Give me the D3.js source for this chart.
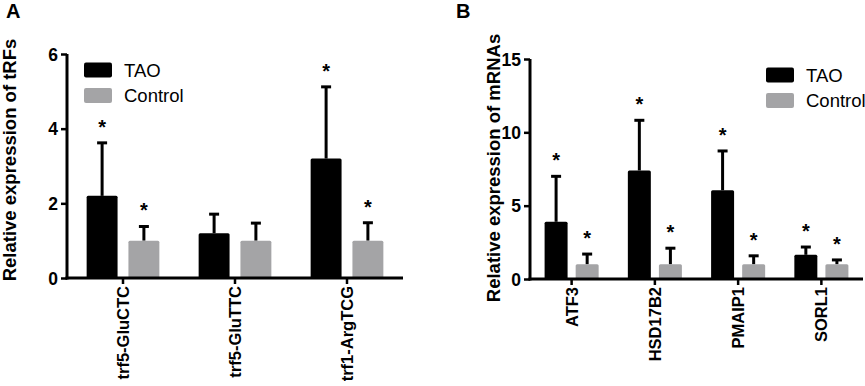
<!DOCTYPE html>
<html><head><meta charset="utf-8">
<script src="https://cdn.jsdelivr.net/npm/d3@7"></script>
<style>
body{margin:0;background:#fff;}
text{font-family:"Liberation Sans",Arial,sans-serif;}
</style></head>
<body><svg id="c" width="865" height="386"></svg>
<script>
// Panel A data
const catsA = ["trf5-GluCTC", "trf5-GluTTC", "trf1-ArgTCG"];
const taoA = [2.2, 1.2, 3.2];
const taoErrA = [1.42, 0.51, 1.92];
const ctrlA = [1.0, 1.0, 1.0];
const ctrlErrA = [0.38, 0.47, 0.48];
const taoStarA = [true, false, true];
const ctrlStarA = [true, false, true];
const ticksA = [0, 2, 4, 6];

// Panel B data
const catsB = ["ATF3", "HSD17B2", "PMAIP1", "SORL1"];
const taoB = [3.9, 7.4, 6.05, 1.65];
const taoErrB = [3.1, 3.42, 2.68, 0.53];
const ctrlB = [1.0, 1.0, 1.0, 1.0];
const ctrlErrB = [0.7, 1.1, 0.58, 0.3];
const taoStarB = [true, true, true, true];
const ctrlStarB = [true, true, true, true];
const ticksB = [0, 5, 10, 15];

const groups = ["TAO", "Control"];
const colors = {TAO: "#000000", Control: "#a4a4a6"};

const svg = d3.select("#c");

function panel(o) {
  const g = svg.append("g");
  const y = d3.scaleLinear().domain([0, o.ymax]).range([o.y0, o.y1]);
  const x = d3.scaleBand().domain(o.cats).range([o.x0, o.x1]).padding(0);
  const xs = d3.scaleBand().domain(groups).range([0, x.bandwidth()]).paddingInner(0.26).paddingOuter(0.47);
  const rows = o.cats.map((c, i) => [
    {c, k: "TAO", v: o.tao[i], e: o.taoErr[i], s: o.taoStar[i]},
    {c, k: "Control", v: o.ctrl[i], e: o.ctrlErr[i], s: o.ctrlStar[i]}
  ]).flat();
  const capW = 10;
  const eb = g.append("g").attr("stroke", "#000").attr("stroke-width", 3);
  rows.forEach(d => {
    const cx = x(d.c) + xs(d.k) + xs.bandwidth() / 2;
    eb.append("line").attr("x1", cx).attr("x2", cx).attr("y1", y(d.v)).attr("y2", y(d.v + d.e));
    eb.append("line").attr("x1", cx - capW / 2).attr("x2", cx + capW / 2).attr("y1", y(d.v + d.e)).attr("y2", y(d.v + d.e));
  });
  g.append("g").selectAll("rect").data(rows).join("rect")
    .attr("x", d => x(d.c) + xs(d.k))
    .attr("width", xs.bandwidth())
    .attr("y", d => y(d.v))
    .attr("height", d => y(0) - y(d.v))
    .attr("rx", 1.5)
    .attr("fill", d => colors[d.k]);
  g.append("g").selectAll("text").data(rows.filter(d => d.s)).join("text")
    .attr("x", d => x(d.c) + xs(d.k) + xs.bandwidth() / 2)
    .attr("y", d => y(d.v + d.e) - 9)
    .attr("text-anchor", "middle")
    .attr("font-size", 20).attr("font-weight", "bold")
    .text("*");
  const ya = g.append("g").attr("transform", `translate(${o.x0},0)`)
    .call(d3.axisLeft(y).tickValues(o.ticks).tickSizeOuter(0).tickSize(6).tickPadding(3).tickFormat(d3.format("d")));
  ya.select(".domain").attr("stroke-width", 3).attr("d", `M0,${y(0) + 1.5}V${y(o.ymax)}`);
  ya.selectAll(".tick line").attr("stroke-width", 2.5);
  ya.selectAll("text").attr("font-size", 17.5).attr("font-weight", "bold").attr("font-family", "Liberation Sans, Arial, sans-serif").attr("dy", "0.36em");
  const xa = g.append("g").attr("transform", `translate(0,${y(0)})`)
    .call(d3.axisBottom(x).tickSizeOuter(0).tickSize(6).tickPadding(0));
  xa.select(".domain").attr("stroke-width", 3).attr("d", `M${o.x0 - 1.5},0H${o.x1}`);
  xa.selectAll(".tick line").attr("stroke-width", 2.5);
  xa.selectAll("text")
    .attr("font-size", 16.5).attr("font-weight", "bold").attr("font-family", "Liberation Sans, Arial, sans-serif")
    .attr("text-anchor", "end")
    .attr("transform", "rotate(-90)")
    .attr("x", -8).attr("y", 0).attr("dy", "0.36em");
  g.append("text")
    .attr("transform", `translate(${o.tx},${o.ty}) rotate(-90)`)
    .attr("text-anchor", "middle")
    .attr("font-size", 18.5).attr("font-weight", "bold")
    .text(o.ytitle);
  g.append("text").attr("x", o.lx).attr("y", 18).attr("font-size", 20).attr("font-weight", "bold").text(o.letter);
  const lg = g.append("g");
  groups.forEach((k, i) => {
    lg.append("rect").attr("x", o.legX).attr("y", o.legY + i * 25.5).attr("width", 28).attr("height", 15)
      .attr("rx", 2).attr("fill", colors[k]);
    lg.append("text").attr("x", o.legX + 40).attr("y", o.legY + i * 25.5 + 14)
      .attr("font-size", 18.5).text(k);
  });
}

panel({cats: catsA, tao: taoA, taoErr: taoErrA, ctrl: ctrlA, ctrlErr: ctrlErrA,
  taoStar: taoStarA, ctrlStar: ctrlStarA, ticks: ticksA, ymax: 6,
  x0: 67, x1: 403, y0: 278, y1: 54, ytitle: "Relative expression of tRFs",
  tx: 16, ty: 160, letter: "A", lx: 6, legX: 84, legY: 62.5});

panel({cats: catsB, tao: taoB, taoErr: taoErrB, ctrl: ctrlB, ctrlErr: ctrlErrB,
  taoStar: taoStarB, ctrlStar: ctrlStarB, ticks: ticksB, ymax: 15,
  x0: 530, x1: 863, y0: 279, y1: 59, ytitle: "Relative expression of mRNAs",
  tx: 500, ty: 168, letter: "B", lx: 456, legX: 766, legY: 67.5});
</script></body></html>
